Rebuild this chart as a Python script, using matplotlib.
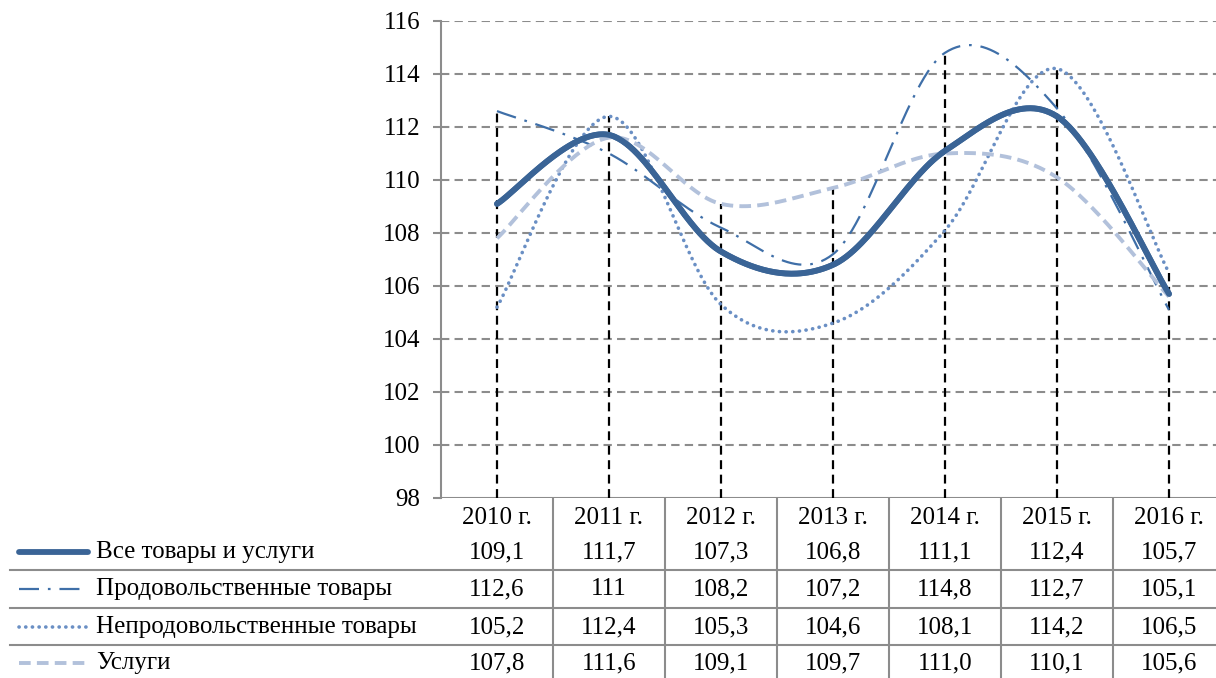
import numpy as np
import matplotlib
matplotlib.use('Agg')
import matplotlib.pyplot as plt
from matplotlib.lines import Line2D

plt.rcParams['font.family'] = ['Liberation Serif', 'DejaVu Serif']

years = ['2010 г.', '2011 г.', '2012 г.', '2013 г.', '2014 г.', '2015 г.', '2016 г.']
names = ['Все товары и услуги', 'Продовольственные товары',
         'Непродовольственные товары', 'Услуги']
all_goods = [109.1, 111.7, 107.3, 106.8, 111.1, 112.4, 105.7]
food = [112.6, 111, 108.2, 107.2, 114.8, 112.7, 105.1]
nonfood = [105.2, 112.4, 105.3, 104.6, 108.1, 114.2, 106.5]
services = [107.8, 111.6, 109.1, 109.7, 111.0, 110.1, 105.6]
labels = [['109,1', '111,7', '107,3', '106,8', '111,1', '112,4', '105,7'],
          ['112,6', '111', '108,2', '107,2', '114,8', '112,7', '105,1'],
          ['105,2', '112,4', '105,3', '104,6', '108,1', '114,2', '106,5'],
          ['107,8', '111,6', '109,1', '109,7', '111,0', '110,1', '105,6']]
series = [all_goods, food, nonfood, services]

styles = [dict(color='#3a6496', lw=4.2, ls='-', solid_capstyle='round'),
          dict(color='#3f6fa8', lw=1.6, ls=(0, (9, 4, 1.2, 4))),
          dict(color='#6a8fc4', lw=2.6, ls=(0, (0.05, 1.8)), dash_capstyle='round'),
          dict(color='#b2c1db', lw=2.8, ls=(0, (3, 1.6)))]

FS = 18


# excel-like smoothed line: cubic bezier through the points
def smooth(y, n=60):
    y = np.asarray(y, float)
    x = np.arange(len(y), dtype=float)
    xs, ys = [], []
    t = np.linspace(0, 1, n)
    for i in range(len(y) - 1):
        i0 = max(i - 1, 0)
        i3 = min(i + 2, len(y) - 1)
        p1 = np.array([x[i], y[i]])
        p2 = np.array([x[i + 1], y[i + 1]])
        p0 = np.array([x[i0], y[i0]])
        p3 = np.array([x[i3], y[i3]])
        c1 = p1 + (p2 - p0) / 6.0
        c2 = p2 - (p3 - p1) / 6.0
        b = (np.outer((1 - t) ** 3, p1) + np.outer(3 * (1 - t) ** 2 * t, c1)
             + np.outer(3 * (1 - t) * t ** 2, c2) + np.outer(t ** 3, p2))
        xs.append(b[:, 0])
        ys.append(b[:, 1])
    return np.concatenate(xs), np.concatenate(ys)


W, H = 1216, 678
fig = plt.figure(figsize=(W / 100, H / 100), dpi=100)

x_left, x_right = 441, 1225
y_top, y_bot = 21, 498
ax = fig.add_axes([x_left / W, 1 - y_bot / H, (x_right - x_left) / W, (y_bot - y_top) / H])
ax.set_xlim(-0.5, 6.5)
ax.set_ylim(98, 116)
ax.set_yticks(range(98, 117, 2))
ax.set_xticks([])
for s in ['top', 'right', 'bottom']:
    ax.spines[s].set_visible(False)
ax.spines['left'].set_color('#8c8c8c')
ax.spines['left'].set_linewidth(1.5)
ax.tick_params(axis='y', length=6, width=1.5, color='#8c8c8c', labelsize=FS, pad=9)
for v in range(100, 117, 2):
    ax.axhline(v, color='#8c8c8c', lw=1.5, ls=(0, (4, 2.5)), zorder=1)
ax.axhline(98, color='#8c8c8c', lw=1.5, zorder=1)

# drop lines down from the highest value of each year
tops = np.max(np.array(series), axis=0)
ax.vlines(range(len(years)), 98, tops, color='black', lw=1.6, ls=(0, (4, 2.5)), zorder=2)

for ys, st in zip(series, styles):
    sx, sy = smooth(ys)
    ax.plot(sx, sy, zorder=3, **st)
# draw the main series last on top
sx, sy = smooth(all_goods)
ax.plot(sx, sy, zorder=4, **styles[0])

# data table below the chart
tab = fig.add_axes([x_left / W, 0, (x_right - x_left) / W, (H - y_bot) / H])
tab.set_xlim(-0.5, 6.5)
tab.set_ylim(H, y_bot)
tab.axis('off')

row_y = [552, 589, 627, 663]
for i, yr in enumerate(years):
    tab.text(i, 518, yr, ha='center', va='center', fontsize=FS)
    for r in range(4):
        tab.text(i, row_y[r], labels[r][i], ha='center', va='center', fontsize=FS)
for i in range(1, len(years)):
    tab.plot([i - 0.5, i - 0.5], [y_bot, H], color='#8c8c8c', lw=1.5)

col_w = (x_right - x_left) / 7.0
def px(xpix):
    return -0.5 + (xpix - x_left) / col_w

for yy in [570, 608, 645]:
    tab.add_line(Line2D([px(10), 6.5], [yy, yy], color='#8c8c8c', lw=1.5, clip_on=False))

for r, (name, st) in enumerate(zip(names, styles)):
    tab.add_line(Line2D([px(19), px(88)], [row_y[r], row_y[r]], clip_on=False, **st))
    tab.text(px(96), row_y[r], name, ha='left', va='center', fontsize=FS, clip_on=False)

fig.savefig('out.png', dpi=100)
